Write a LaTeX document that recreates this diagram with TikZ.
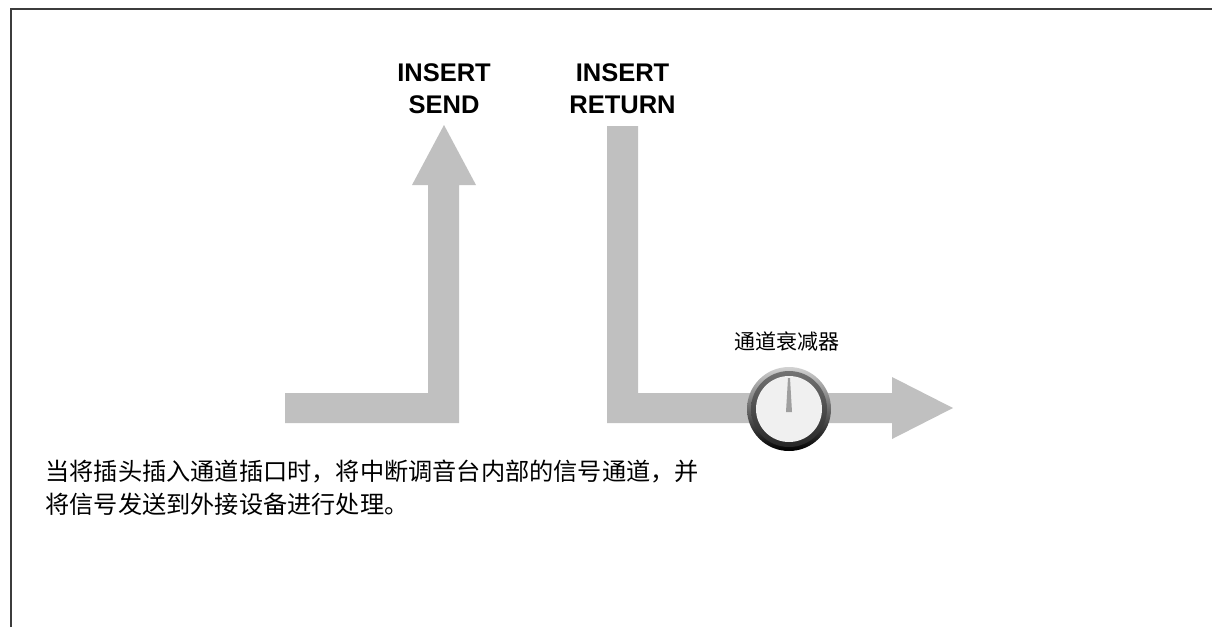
\documentclass[tikz,border=0pt]{standalone}
\usepackage{fontspec}
\setmainfont{Liberation Sans}
\newfontfamily\cjk{Noto Sans CJK SC}
\usepackage{tikz}
\usetikzlibrary{positioning}
\newcommand{\knobRadius}{42}
\definecolor{flowgray}{RGB}{192,192,192}
\definecolor{framegray}{RGB}{60,60,60}

\begin{document}
\begin{tikzpicture}[x=1pt, y=-1pt,
		insertlabel/.style={align=center, font=\bfseries\fontsize{25.5}{32}\selectfont},
		knoblabel/.style={font=\cjk\fontsize{21}{24}\selectfont},
		notetext/.style={anchor=west, align=left, font=\cjk\fontsize{24.2}{33}\selectfont},
		flow/.style={fill=flowgray, draw=none}]
	\useasboundingbox (0,0) rectangle (1212,627);
	% frame
	\draw[line width=2pt, framegray] (11,627) -- (11,9) -- (1212,9);

	% labels
	\node[insertlabel] (send) at (444,89) {INSERT\\SEND};
	\node[insertlabel] (return) at (622.5,89) {INSERT\\RETURN};
	\node[knoblabel] (fadername) at (787,342) {通道衰减器};

	% send path
	\coordinate (sendtip) at (444,125);
	\fill[flow] (285,393) -- (428,393) -- (428,185) -- (412,185) -- (sendtip)
		-- (476,185) -- (459,185) -- (459,423) -- (285,423) -- cycle;

	% return path
	\coordinate (rettip) at (953,408);
	\fill[flow] (607,126) -- (638,126) -- (638,393) -- (892,393) -- (892,377) -- (rettip)
		-- (892,439) -- (892,423) -- (607,423) -- cycle;

	% channel fader knob
	\node[circle, minimum size=2*\knobRadius pt, inner sep=0pt,
		top color=gray!35, bottom color=black, draw=none] (knob) at (789,409) {};
	\node[circle, minimum size=76pt, inner sep=0pt,
		top color=black!55, bottom color=black!85, draw=none] (knobring) at (knob) {};
	\node[circle, minimum size=66pt, inner sep=0pt, fill=gray!12] (knobface) at (knob) {};
	\fill[gray!75] (786,412) -- (792,412) -- (790,378) -- (788,378) -- cycle;

	% note
	\node[notetext] (note) at (42,488) {当将插头插入通道插口时，将中断调音台内部的信号通道，并\\将信号发送到外接设备进行处理。};
\end{tikzpicture}
\end{document}
